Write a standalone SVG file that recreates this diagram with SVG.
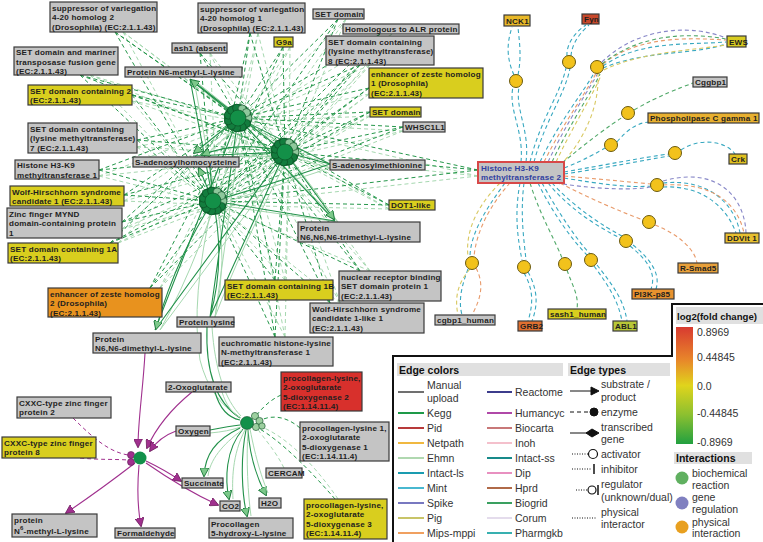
<svg xmlns="http://www.w3.org/2000/svg" width="763" height="542" viewBox="0 0 763 542">
<style>
text{font-family:"Liberation Sans",Arial,sans-serif}
.lbl{font-size:8.1px;font-weight:bold;fill:#1e1e1e;letter-spacing:0.2px}
.box rect{stroke:#3a3a3a;stroke-width:1.2}
.gray rect{fill:#c4c4c4}
.yel rect{fill:#d9ce1e}
.org rect{fill:#e8921e}
.red rect{fill:#d8302c}
.kd{stroke:#25974a;fill:none;stroke-dasharray:4 3}
.kl{stroke:#a6d8b0;fill:none;stroke-dasharray:4 3}
.ks{stroke:#22914a;fill:none;stroke-width:1.1}
.ksl{stroke:#a6d8b0;fill:none}
.pu{stroke:#a0308e;fill:none;stroke-width:1.1}
.pud{stroke:#a0308e;fill:none;stroke-dasharray:4 3}
.rt{fill:none;stroke-dasharray:4 3;stroke-width:1.1}
.te{stroke:#38a8c0}.or{stroke:#e89a6a}.pp{stroke:#8888c8}.gr{stroke:#50a868}.ye{stroke:#d8c860}
.ic{fill:#f2c21c;stroke:#6a5a10;stroke-width:1}
.leg{font-size:10.5px;fill:#333}
.hd{font-size:10.5px;font-weight:bold;fill:#111}
.lc{stroke-width:2}
</style>
<defs>
<marker id="arrG" viewBox="0 0 10 10" refX="9" refY="5" markerWidth="9" markerHeight="9" markerUnits="userSpaceOnUse" orient="auto"><path d="M0,0L10,5L0,10z" fill="#7cc88a" stroke="#1a7a3a" stroke-width="1"/></marker>
<marker id="arrP" viewBox="0 0 10 10" refX="9" refY="5" markerWidth="9" markerHeight="9" markerUnits="userSpaceOnUse" orient="auto"><path d="M0,0L10,5L0,10z" fill="#a0308e" stroke="#6a1a5a" stroke-width="0.8"/></marker>
<linearGradient id="fc" x1="0" y1="0" x2="0" y2="1">
<stop offset="0" stop-color="#d83a30"/><stop offset="0.28" stop-color="#e8862a"/><stop offset="0.5" stop-color="#e0d41c"/><stop offset="0.75" stop-color="#8cc030"/><stop offset="1" stop-color="#22a040"/>
</linearGradient>
<g id="hub">
<circle r="14" fill="#0f6a32"/>
<g stroke="#0a4a22" stroke-width="0.6">
<circle cx="10" cy="0" r="4" fill="#8ec89c"/><circle cx="8.4" cy="5.4" r="4" fill="#137d3e"/><circle cx="4.2" cy="9.1" r="4" fill="#137d3e"/><circle cx="-1.4" cy="9.9" r="4" fill="#137d3e"/><circle cx="-6.6" cy="7.6" r="4" fill="#137d3e"/><circle cx="-9.6" cy="2.8" r="4" fill="#137d3e"/><circle cx="-9.6" cy="-2.8" r="4" fill="#137d3e"/><circle cx="-6.6" cy="-7.6" r="4" fill="#137d3e"/><circle cx="-1.4" cy="-9.9" r="4" fill="#137d3e"/><circle cx="4.2" cy="-9.1" r="4" fill="#8ec89c"/><circle cx="8.4" cy="-5.4" r="4" fill="#8ec89c"/>
<circle r="8" fill="#139048"/>
</g>
</g>
</defs>
<rect width="763" height="542" fill="#fff"/>
<g id="connectors">
<path class="kl" d="M123,32L242,122M123,32L289,156M123,32L217,205M258,33L242,122M258,33L289,156M258,33L217,205M346,19L242,122M346,19L289,156M346,19L217,205M392,34L242,122M392,34L289,156M392,34L217,205M370,65L242,122M370,65L289,156M370,65L217,205M290,47L242,122M290,47L289,156M290,47L217,205M210,53L242,122M210,53L289,156M210,53L217,205M90,75L242,122M90,75L289,156M90,75L217,205M132,101L242,122M132,101L289,156M132,101L217,205M137,147L242,122M137,147L289,156M137,147L217,205M99,176L242,122M99,176L289,156M99,176L217,205M369,94L242,122M369,94L289,156M369,94L217,205M370,116L242,122M370,116L289,156M370,116L217,205M403,131L242,122M403,131L289,156M403,131L217,205M124,201L242,122M124,201L289,156M124,201L217,205M122,229L242,122M122,229L289,156M122,229L217,205M118,243L242,122M118,243L289,156M118,243L217,205M160,288L242,122M160,288L289,156M160,288L217,205M389,209L242,122M389,209L289,156M389,209L217,205M285,280L242,122M285,280L289,156M285,280L217,205M370,271L242,122M370,271L289,156M370,271L217,205M340,303L242,122M340,303L289,156M340,303L217,205M285,337L242,122M285,337L289,156M285,337L217,205M478,176L242,122M478,176L289,156M478,176L217,205"/>
<path class="kd" d="M115,32L238,118M115,32L285,152M115,32L213,201M250,33L238,118M250,33L285,152M250,33L213,201M338,19L238,118M338,19L285,152M338,19L213,201M380,34L238,118M380,34L285,152M380,34L213,201M360,65L238,118M360,65L285,152M360,65L213,201M283,47L238,118M283,47L285,152M283,47L213,201M200,53L238,118M200,53L285,152M200,53L213,201M80,75L238,118M80,75L285,152M80,75L213,201M132,95L238,118M132,95L285,152M132,95L213,201M137,140L238,118M137,140L285,152M137,140L213,201M99,170L238,118M99,170L285,152M99,170L213,201M369,88L238,118M369,88L285,152M369,88L213,201M370,112L238,118M370,112L285,152M370,112L213,201M403,127L238,118M403,127L285,152M403,127L213,201M124,195L238,118M124,195L285,152M124,195L213,201M122,222L238,118M122,222L285,152M122,222L213,201M110,243L238,118M110,243L285,152M110,243L213,201M150,288L238,118M150,288L285,152M150,288L213,201M389,205L238,118M389,205L285,152M389,205L213,201M275,280L238,118M275,280L285,152M275,280L213,201M360,271L238,118M360,271L285,152M360,271L213,201M330,303L238,118M330,303L285,152M330,303L213,201M275,337L238,118M275,337L285,152M275,337L213,201M478,170L238,118M478,170L285,152M478,170L213,201"/>
<path class="ksl" d="M194,80L242,122M194,80L289,156M194,80L217,205M330,168L242,122M330,168L289,156M330,168L217,205M338,222L242,122M338,222L289,156M338,222L217,205M160,330Q200,260 242,122M160,330L289,156M215,317L242,122M215,317Q240,250 289,156M215,317Q228,260 217,205M204,157L242,122M210,157L289,156M213,201Q190,300 200,360Q210,400 241,418"/>
<path class="ks" d="M190,79L285,152M190,79L213,201M330,164L238,118M330,164L285,152M330,164Q270,185 213,201M335,221L238,118M335,221L213,201M155,330L238,118M155,330L285,152M210,317L238,118M210,317L285,152M210,317Q226,260 213,201M193,156L285,152"/>
<path class="ks" marker-end="url(#arrG)" d="M238,118L191,80"/>
<path class="ks" marker-end="url(#arrG)" d="M238,118L194,153"/>
<path class="ks" marker-end="url(#arrG)" d="M285,152Q240,140 202,155"/>
<path class="ks" marker-end="url(#arrG)" d="M213,201L209,157"/>
<path class="ks" marker-end="url(#arrG)" d="M213,201L199,168"/>
<path class="ks" marker-end="url(#arrG)" d="M285,152L334,219"/>
<path class="ks" marker-end="url(#arrG)" d="M213,201Q175,260 156,329"/>
<path class="ks" d="M207,327C205,380 220,405 240,418M215,392C220,410 230,418 240,420M210,430C220,428 230,426 240,425"/>
<path class="ksl" d="M212,327C215,370 225,400 241,416M222,392C226,405 232,413 241,418M210,433C222,432 232,430 241,427"/>
<path class="ks" marker-end="url(#arrG)" d="M240,428C215,440 205,455 204,476"/>
<path class="ks" marker-end="url(#arrG)" d="M243,429C225,450 225,480 229,499"/>
<path class="ks" marker-end="url(#arrG)" d="M246,430C240,460 242,495 247,516"/>
<path class="ks" marker-end="url(#arrG)" d="M248,430C250,460 258,480 266,495"/>
<path class="ksl" d="M242,430C222,445 210,460 208,476M245,430C232,455 232,480 233,499M248,430C246,460 248,495 251,516M250,429C256,460 262,478 268,493"/>
<path class="kd" d="M281,395C270,400 262,408 256,416M300,428C285,415 270,415 259,421M335,499C310,470 280,440 258,428"/>
<path class="kl" d="M284,468C275,450 265,440 257,428M338,499C315,465 285,435 259,426"/>
<path class="pu" marker-end="url(#arrP)" d="M145,353C143,390 138,420 138,447"/>
<path class="pu" marker-end="url(#arrP)" d="M192,392C170,410 155,430 147,448"/>
<path class="pu" marker-end="url(#arrP)" d="M176,431C165,435 156,442 150,451"/>
<path class="pud" d="M73,418C95,440 110,452 128,455M80,458C100,460 115,459 128,460"/>
<path class="pu" marker-end="url(#arrP)" d="M135,463Q100,490 66,513"/>
<path class="pu" marker-end="url(#arrP)" d="M139,465Q136,500 141,526"/>
<path class="pu" marker-end="url(#arrP)" d="M146,461Q165,470 181,481"/>
<path class="pu" marker-end="url(#arrP)" d="M146,463Q185,490 218,505"/>
<path class="rt te" d="M521,162C524,130 508,110 513,87M526,162C530,130 515,110 519,87M514,75C505,55 508,40 512,27M518,75C522,55 519,40 518,27M530,162C540,120 560,95 566,68M534,162C545,120 565,95 570,68M567,56C566,42 578,30 586,25M571,56C572,42 582,31 589,25M540,162C560,120 585,90 594,73M603,66C640,40 690,45 726,42M603,68C645,50 695,55 726,44M564,168C585,160 598,152 605,148M617,142C628,128 640,122 650,122M564,172C605,165 645,157 669,154M564,174C605,168 645,160 669,156M681,150C698,138 725,140 735,154M564,178C600,184 630,188 651,186M663,183C710,178 735,205 740,233M663,187C705,185 728,210 736,233M548,183C570,210 600,228 620,238M552,183C575,208 603,226 622,236M630,246C650,262 656,275 651,289M633,245C654,262 660,276 656,289M538,183C552,212 572,240 587,255M542,183C558,212 577,240 590,254M594,266C608,285 618,300 622,321M597,265C612,284 624,300 627,321M520,183C514,215 518,240 522,260M524,183C520,215 524,240 526,260M524,273C534,290 533,305 528,321M528,272C538,290 538,305 532,321M505,183C485,210 470,235 470,257M468,269C462,285 458,300 462,315"/>
<path class="rt or" d="M544,162C565,120 588,90 596,73M603,64C640,35 690,38 726,40M560,183C592,200 622,212 643,220M655,225C680,235 695,250 697,263M564,176C610,180 640,183 651,184M663,185C715,182 738,205 744,233M476,268C485,285 480,300 472,315M510,183C490,205 476,232 474,257"/>
<path class="rt pp" d="M548,162C568,120 590,88 598,73M602,62C640,25 695,25 726,38M663,181C720,165 745,200 746,233M556,183C600,190 635,190 651,187"/>
<path class="rt gr" d="M552,162C572,120 594,88 600,74M602,64C642,32 693,33 726,39M562,163C590,140 610,125 623,117M634,110C660,95 680,88 693,83M530,183C540,215 555,240 562,258M567,270C572,285 579,295 577,309"/>
<path class="rt ye" d="M556,162C576,120 596,90 601,75M604,70C640,52 695,50 726,45M598,73C600,110 580,145 562,163M500,183C478,205 465,230 468,257M470,269C456,285 455,300 458,315"/>
</g>
<g id="hubs">
<use href="#hub" x="238" y="118"/>
<use href="#hub" x="285" y="152"/>
<use href="#hub" x="213" y="201"/>
<g id="hub-lower" stroke="#0a4a22" stroke-width="0.6">
<circle cx="255" cy="416" r="3.6" fill="#9ccf9f"/><circle cx="259.5" cy="421" r="3.6" fill="#9ccf9f"/><circle cx="256" cy="427" r="3.6" fill="#9ccf9f"/><circle cx="262" cy="426" r="3.2" fill="#9ccf9f"/>
<circle cx="247" cy="423" r="6.5" fill="#12904a"/>
</g>
<g id="hub-purple">
<circle cx="131" cy="455" r="3.5" fill="#a0308e" stroke="#5a1a50" stroke-width="0.6"/><circle cx="131" cy="462" r="3.5" fill="#a0308e" stroke="#5a1a50" stroke-width="0.6"/>
<circle cx="140" cy="458" r="6.5" fill="#12904a"/>
</g>
<g id="interaction-dots">
<circle class="ic" cx="516" cy="81" r="6.5"/><circle class="ic" cx="569" cy="62" r="6.5"/><circle class="ic" cx="597" cy="67" r="6.5"/><circle class="ic" cx="628" cy="113" r="6.5"/><circle class="ic" cx="611" cy="145" r="6.5"/><circle class="ic" cx="675" cy="153" r="6.5"/><circle class="ic" cx="657" cy="185" r="6.5"/><circle class="ic" cx="649" cy="222" r="6.5"/><circle class="ic" cx="626" cy="241" r="6.5"/><circle class="ic" cx="591" cy="260" r="6.5"/><circle class="ic" cx="565" cy="264" r="6.5"/><circle class="ic" cx="524" cy="267" r="6.5"/><circle class="ic" cx="472" cy="263" r="6.5"/>
</g>
</g>
<g id="nodes">
<g id="n-suv420h2" class="box gray"><rect x="50" y="2" width="107" height="30"/><text class="lbl" x="52" y="10.5">suppressor of variegation<tspan x="52" dy="9.5">4-20 homolog 2</tspan><tspan x="52" dy="9.5">(Drosophila) (EC:2.1.1.43)</tspan></text></g>
<g id="n-suv420h1" class="box gray"><rect x="198" y="3" width="107" height="30"/><text class="lbl" x="200" y="11.5">suppressor of variegation<tspan x="200" dy="9.5">4-20 homolog 1</tspan><tspan x="200" dy="9.5">(Drosophila) (EC:2.1.1.43)</tspan></text></g>
<g id="n-setdomain" class="box gray"><rect x="313" y="9" width="51" height="10"/><text class="lbl" x="315" y="17">SET domain</text></g>
<g id="n-alr" class="box gray"><rect x="343" y="24" width="116" height="10"/><text class="lbl" x="345" y="32">Homologous to ALR protein</text></g>
<g id="n-setd8" class="box gray"><rect x="326" y="36" width="108" height="29"/><text class="lbl" x="328" y="44.5">SET domain containing<tspan x="328" dy="9.5">(lysine methyltransferase)</tspan><tspan x="328" dy="9.5">8 (EC:2.1.1.43)</tspan></text></g>
<g id="n-g9a" class="box yel"><rect x="274" y="37" width="19" height="10"/><text class="lbl" x="276" y="45">G9a</text></g>
<g id="n-ash1" class="box gray"><rect x="172" y="43" width="55" height="10"/><text class="lbl" x="174" y="51">ash1 (absent</text></g>
<g id="n-mmk" class="box gray"><rect x="125" y="67" width="117" height="10"/><text class="lbl" x="127" y="75">Protein N6-methyl-L-lysine</text></g>
<g id="n-setmar" class="box gray"><rect x="14" y="47" width="104" height="28"/><text class="lbl" x="16" y="55">SET domain and mariner<tspan x="16" dy="9.5">transposase fusion gene</tspan><tspan x="16" dy="9.5">(EC:2.1.1.43)</tspan></text></g>
<g id="n-setd2" class="box yel"><rect x="28" y="85" width="104" height="20"/><text class="lbl" x="30" y="93.5">SET domain containing 2<tspan x="30" dy="9.5">(EC:2.1.1.43)</tspan></text></g>
<g id="n-setd7" class="box gray"><rect x="28" y="123" width="109" height="30"/><text class="lbl" x="30" y="131.5">SET domain containing<tspan x="30" dy="9.5">(lysine methyltransferase)</tspan><tspan x="30" dy="9.5">7 (EC:2.1.1.43)</tspan></text></g>
<g id="n-hmt1" class="box gray"><rect x="15" y="160" width="84" height="19"/><text class="lbl" x="17" y="168">Histone H3-K9<tspan x="17" dy="9.5">methyltransferase 1</tspan></text></g>
<g id="n-sah" class="box gray"><rect x="133" y="157" width="106" height="10"/><text class="lbl" x="135" y="165">S-adenosylhomocysteine</text></g>
<g id="n-ezh1" class="box yel"><rect x="369" y="68" width="114" height="30"/><text class="lbl" x="371" y="76.5">enhancer of zeste homolog<tspan x="371" dy="9.5">1 (Drosophila)</tspan><tspan x="371" dy="9.5">(EC:2.1.1.43)</tspan></text></g>
<g id="n-setdomain2" class="box yel"><rect x="370" y="107" width="51" height="10"/><text class="lbl" x="372" y="115">SET domain</text></g>
<g id="n-whsc1l1" class="box gray"><rect x="403" y="122" width="42" height="10"/><text class="lbl" x="405" y="130">WHSC1L1</text></g>
<g id="n-sam" class="box gray"><rect x="330" y="160" width="95" height="10"/><text class="lbl" x="332" y="168">S-adenosylmethionine</text></g>
<g id="n-whsc1" class="box yel"><rect x="10" y="186" width="114" height="20"/><text class="lbl" x="12" y="194.5">Wolf-Hirschhorn syndrome<tspan x="12" dy="9.5">candidate 1 (EC:2.1.1.43)</tspan></text></g>
<g id="n-zmynd" class="box gray"><rect x="7" y="208" width="115" height="30"/><text class="lbl" x="9" y="216.5">Zinc finger MYND<tspan x="9" dy="9.5">domain-containing protein</tspan><tspan x="9" dy="9.5">1</tspan></text></g>
<g id="n-setd1a" class="box yel"><rect x="8" y="243" width="110" height="20"/><text class="lbl" x="10" y="251.5">SET domain containing 1A<tspan x="10" dy="9.5">(EC:2.1.1.43)</tspan></text></g>
<g id="n-ezh2" class="box org"><rect x="48" y="288" width="114" height="29"/><text class="lbl" x="50" y="296.5">enhancer of zeste homolog<tspan x="50" dy="9.5">2 (Drosophila)</tspan><tspan x="50" dy="9.5">(EC:2.1.1.43)</tspan></text></g>
<g id="n-plys" class="box gray"><rect x="177" y="317" width="57" height="10"/><text class="lbl" x="179" y="325">Protein lysine</text></g>
<g id="n-dmk" class="box gray"><rect x="93" y="333" width="108" height="20"/><text class="lbl" x="95" y="341.5">Protein<tspan x="95" dy="9.5">N6,N6-dimethyl-L-lysine</tspan></text></g>
<g id="n-dot1l" class="box yel"><rect x="389" y="200" width="46" height="10"/><text class="lbl" x="391" y="208">DOT1-like</text></g>
<g id="n-tmk" class="box gray"><rect x="298" y="222" width="122" height="20"/><text class="lbl" x="300" y="230.5">Protein<tspan x="300" dy="9.5">N6,N6,N6-trimethyl-L-lysine</tspan></text></g>
<g id="n-setd1b" class="box yel"><rect x="225" y="280" width="108" height="20"/><text class="lbl" x="227" y="288.5">SET domain containing 1B<tspan x="227" dy="9.5">(EC:2.1.1.43)</tspan></text></g>
<g id="n-nsd1" class="box gray"><rect x="339" y="271" width="102" height="30"/><text class="lbl" x="341" y="279.5">nuclear receptor binding<tspan x="341" dy="9.5">SET domain protein 1</tspan><tspan x="341" dy="9.5">(EC:2.1.1.43)</tspan></text></g>
<g id="n-whsc1l" class="box gray"><rect x="310" y="303" width="114" height="30"/><text class="lbl" x="312" y="311.5">Wolf-Hirschhorn syndrome<tspan x="312" dy="9.5">candidate 1-like 1</tspan><tspan x="312" dy="9.5">(EC:2.1.1.43)</tspan></text></g>
<g id="n-ehmt1" class="box gray"><rect x="219" y="337" width="114" height="29"/><text class="lbl" x="221" y="345.5">euchromatic histone-lysine<tspan x="221" dy="9.5">N-methyltransferase 1</tspan><tspan x="221" dy="9.5">(EC:2.1.1.43)</tspan></text></g>
<g id="n-plod2" class="box red"><rect x="281" y="372" width="81" height="39"/><text class="lbl" x="283" y="380.5">procollagen-lysine,<tspan x="283" dy="9.5">2-oxoglutarate</tspan><tspan x="283" dy="9.5">5-dioxygenase 2</tspan><tspan x="283" dy="9.5">(EC:1.14.11.4)</tspan></text></g>
<g id="n-2og" class="box gray"><rect x="166" y="382" width="65" height="10"/><text class="lbl" x="168" y="390">2-Oxoglutarate</text></g>
<g id="n-cxxc2" class="box gray"><rect x="17" y="397" width="94" height="21"/><text class="lbl" x="19" y="405.5">CXXC-type zinc finger<tspan x="19" dy="9.5">protein 2</tspan></text></g>
<g id="n-oxygen" class="box gray"><rect x="176" y="426" width="34" height="10"/><text class="lbl" x="178" y="434">Oxygen</text></g>
<g id="n-plod1" class="box gray"><rect x="300" y="422" width="89" height="39"/><text class="lbl" x="302" y="430.5">procollagen-lysine 1,<tspan x="302" dy="9.5">2-oxoglutarate</tspan><tspan x="302" dy="9.5">5-dioxygenase 1</tspan><tspan x="302" dy="9.5">(EC:1.14.11.4)</tspan></text></g>
<g id="n-cxxc8" class="box yel"><rect x="2" y="437" width="94" height="21"/><text class="lbl" x="4" y="445.5">CXXC-type zinc finger<tspan x="4" dy="9.5">protein 8</tspan></text></g>
<g id="n-cercam" class="box gray"><rect x="266" y="468" width="36" height="10"/><text class="lbl" x="268" y="476">CERCAM</text></g>
<g id="n-succ" class="box gray"><rect x="182" y="478" width="41" height="10"/><text class="lbl" x="184" y="486">Succinate</text></g>
<g id="n-co2" class="box gray"><rect x="220" y="501" width="20" height="10"/><text class="lbl" x="222" y="509">CO2</text></g>
<g id="n-h2o" class="box gray"><rect x="259" y="498" width="22" height="10"/><text class="lbl" x="261" y="506">H2O</text></g>
<g id="n-plod3" class="box yel"><rect x="304" y="499" width="83" height="40"/><text class="lbl" x="306" y="507.5">procollagen-lysine,<tspan x="306" dy="9.5">2-oxoglutarate</tspan><tspan x="306" dy="9.5">5-dioxygenase 3</tspan><tspan x="306" dy="9.5">(EC:1.14.11.4)</tspan></text></g>
<g id="n-procol" class="box gray"><rect x="209" y="518" width="84" height="20"/><text class="lbl" x="211" y="526.5">Procollagen<tspan x="211" dy="9.5">5-hydroxy-L-lysine</tspan></text></g>
<g id="n-formald" class="box gray"><rect x="115" y="528" width="60" height="10"/><text class="lbl" x="117" y="536">Formaldehyde</text></g>
<g id="n-pmk" class="box gray"><rect x="12" y="514" width="85" height="23"/><text class="lbl" x="14" y="522.5">protein<tspan x="14" dy="11">N</tspan><tspan font-size="6" dy="-4">6</tspan><tspan dy="4">-methyl-L-lysine</tspan></text></g>
<g id="n-hmt2"><rect x="478" y="162" width="86" height="21" fill="#c4c4c4" stroke="#d84848" stroke-width="2"/><text class="lbl" x="481" y="170.5" style="fill:#3040a0">Histone H3-K9<tspan x="481" dy="9.5">methyltransferase 2</tspan></text></g>
<g id="n-nck1" class="box"><rect x="504" y="15" width="26" height="11" fill="#e8b828"/><text class="lbl" x="506" y="23.5">NCK1</text></g>
<g id="n-fyn" class="box"><rect x="582" y="14" width="17" height="10" fill="#c8482a"/><text class="lbl" x="584" y="22">Fyn</text></g>
<g id="n-ews" class="box"><rect x="727" y="36" width="19" height="11" fill="#d8cc20"/><text class="lbl" x="729" y="44.5">EWS</text></g>
<g id="n-cggbp1" class="box gray"><rect x="693" y="77" width="34" height="10"/><text class="lbl" x="695" y="85">Cggbp1</text></g>
<g id="n-plcg1" class="box"><rect x="648" y="113" width="111" height="10" fill="#e8b030"/><text class="lbl" x="650" y="121">Phospholipase C gamma 1</text></g>
<g id="n-crk" class="box"><rect x="729" y="154" width="18" height="10" fill="#e0c020"/><text class="lbl" x="731" y="162">Crk</text></g>
<g id="n-ddvit" class="box"><rect x="725" y="233" width="34" height="10" fill="#e8c030"/><text class="lbl" x="727" y="241">DDVit 1</text></g>
<g id="n-rsmad5" class="box"><rect x="678" y="263" width="40" height="10" fill="#e8a03a"/><text class="lbl" x="680" y="271">R-Smad5</text></g>
<g id="n-pi3k" class="box"><rect x="632" y="289" width="42" height="10" fill="#e8922e"/><text class="lbl" x="634" y="297">PI3K-p85</text></g>
<g id="n-cgbp1h" class="box gray"><rect x="435" y="315" width="60" height="10"/><text class="lbl" x="437" y="323">cgbp1_human</text></g>
<g id="n-grb2" class="box"><rect x="518" y="321" width="24" height="10" fill="#e07030"/><text class="lbl" x="520" y="329">GRB2</text></g>
<g id="n-sash1" class="box yel"><rect x="548" y="309" width="58" height="10"/><text class="lbl" x="550" y="317">sash1_human</text></g>
<g id="n-abl1" class="box"><rect x="613" y="321" width="24" height="10" fill="#b8c838"/><text class="lbl" x="615" y="329">ABL1</text></g>
</g>
<g id="legend">
<rect x="393" y="356" width="370" height="186" fill="#fff"/>
<rect x="672" y="304" width="91" height="52" fill="#fff"/>
<path d="M393,542V356H672V304H763" fill="none" stroke="#111" stroke-width="2"/>
<rect x="397" y="363" width="166" height="13" fill="#e0e0e0"/>
<text class="hd" x="399" y="373.5">Edge colors</text>
<rect x="568" y="363" width="102" height="13" fill="#e0e0e0"/>
<text class="hd" x="570" y="373.5">Edge types</text>
<rect x="676" y="307" width="87" height="17" fill="#e0e0e0"/>
<text class="hd" x="677" y="320" style="font-size:9.6px">log2(fold change)</text>
<rect x="676" y="327" width="17" height="117" fill="url(#fc)"/>
<g class="leg"><text x="697" y="336">0.8969</text><text x="697" y="361">0.44845</text><text x="697" y="390">0.0</text><text x="697" y="417">-0.44845</text><text x="697" y="446">-0.8969</text></g>
<g class="lc">
<path d="M398,392H424" stroke="#707070"/><path d="M398,413H424" stroke="#1e9a48"/><path d="M398,428H424" stroke="#b83a3a"/><path d="M398,443H424" stroke="#f0b840"/><path d="M398,458H424" stroke="#b0d8b0"/><path d="M398,473H424" stroke="#1a9cb0"/><path d="M398,488H424" stroke="#48b8d0"/><path d="M398,503H424" stroke="#7878c0"/><path d="M398,518H424" stroke="#c8c468"/><path d="M398,533H424" stroke="#f0a060"/>
<path d="M487,392H512" stroke="#3c3c8c"/><path d="M487,413H512" stroke="#b048a8"/><path d="M487,428H512" stroke="#c87878"/><path d="M487,443H512" stroke="#f4c0cc"/><path d="M487,458H512" stroke="#188a8a"/><path d="M487,473H512" stroke="#e890c0"/><path d="M487,488H512" stroke="#b06a48"/><path d="M487,503H512" stroke="#3aa060"/><path d="M487,518H512" stroke="#e4dcec"/><path d="M487,533H512" stroke="#38b0b0"/>
</g>
<g class="leg">
<text x="427" y="389">Manual</text><text x="427" y="402">upload</text><text x="427" y="417">Kegg</text><text x="427" y="432">Pid</text><text x="427" y="447">Netpath</text><text x="427" y="462">Ehmn</text><text x="427" y="477">Intact-ls</text><text x="427" y="492">Mint</text><text x="427" y="507">Spike</text><text x="427" y="522">Pig</text><text x="427" y="537">Mips-mppi</text>
<text x="515" y="396">Reactome</text><text x="515" y="417">Humancyc</text><text x="515" y="432">Biocarta</text><text x="515" y="447">Inoh</text><text x="515" y="462">Intact-ss</text><text x="515" y="477">Dip</text><text x="515" y="492">Hprd</text><text x="515" y="507">Biogrid</text><text x="515" y="522">Corum</text><text x="515" y="537">Pharmgkb</text>
<text x="601" y="388">substrate /</text><text x="601" y="401">product</text><text x="601" y="416">enzyme</text><text x="601" y="431">transcribed</text><text x="601" y="443">gene</text><text x="601" y="458">activator</text><text x="601" y="473">inhibitor</text><text x="601" y="488">regulator</text><text x="601" y="501">(unknown/dual)</text><text x="601" y="516">physical</text><text x="601" y="528">interactor</text>
</g>
<g stroke="#111" fill="none">
<path d="M570,391H592"/><path d="M591,387L599,391L591,395z" fill="#111"/>
<path d="M570,412H590" stroke-dasharray="4 3"/><circle cx="594" cy="412" r="4" fill="#111"/>
<path d="M570,433H588"/><path d="M586,433L592,429L599,433L592,437z" fill="#111"/>
<path d="M572,454H588" stroke-dasharray="1 1.5"/><circle cx="593" cy="454" r="4.5" fill="#fff" stroke-width="1.2"/>
<path d="M572,469H592" stroke-dasharray="1 1.5"/><path d="M594,464V474" stroke-width="1.5"/>
<path d="M576,490H588" stroke-dasharray="1 1.5"/><circle cx="592" cy="490" r="4" fill="#fff" stroke-width="1.2"/><path d="M598,485V495" stroke-width="1.5"/>
<path d="M572,518H597" stroke-dasharray="1 1.5"/>
</g>
<rect x="674" y="452" width="78" height="12" fill="#e0e0e0"/>
<text class="hd" x="676" y="462">Interactions</text>
<circle cx="682" cy="478" r="6.5" fill="#60b060"/><circle cx="682" cy="503" r="6.5" fill="#8080c0"/><circle cx="682" cy="527" r="6.5" fill="#e8a020"/>
<g class="leg"><text x="692" y="477">biochemical</text><text x="692" y="489">reaction</text><text x="692" y="501">gene</text><text x="692" y="513">regulation</text><text x="692" y="526">physical</text><text x="692" y="537">interaction</text></g>
</g>
</svg>
